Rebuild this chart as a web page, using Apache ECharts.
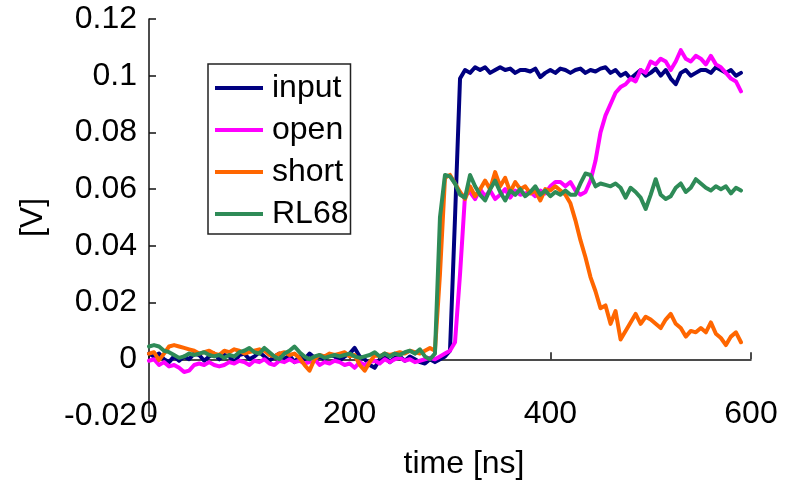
<!DOCTYPE html>
<html><head><meta charset="utf-8">
<script src="https://cdn.jsdelivr.net/npm/echarts@6/dist/echarts.min.js"></script>
<style>html,body{margin:0;padding:0;background:#fff;}#c{width:791px;height:480px;}</style>
</head><body><div id="c"></div>
<script>
var seriesNames = ['input', 'open', 'short', 'RL68'];
var colors = ['#000080', '#FF00FF', '#FF6600', '#2E8B57'];
var xTicks = [0, 200, 400, 600];
var yTicks = [-0.02, 0, 0.02, 0.04, 0.06, 0.08, 0.1, 0.12];

var time = [
  0,5,10,15,20,25,30,35,40,45,
  50,55,60,65,70,75,80,85,90,95,
  100,105,110,115,120,125,130,135,140,145,
  150,155,160,165,170,175,180,185,190,195,
  200,205,210,215,220,225,230,235,240,245,
  250,255,260,265,270,275,280,285,290,295,
  300,305,310,315,320,325,330,335,340,345,
  350,355,360,365,370,375,380,385,390,395,
  400,405,410,415,420,425,430,435,440,445,
  450,455,460,465,470,475,480,485,490,495,
  500,505,510,515,520,525,530,535,540,545,
  550,555,560,565,570,575,580,585,590
];

var inputV = [
  0.002,0.001,0.002,0.0,-0.001,0.001,-0.0005,0.001,0.0,0.002,
  0.0015,-0.0005,0.001,0.002,0.0,0.0015,0.001,-0.001,0.0015,0.002,
  0.0,0.001,0.0025,0.001,-0.0005,0.001,0.002,0.0,0.0015,-0.001,
  0.001,0.0,0.002,0.0005,0.001,0.0,0.0015,0.001,-0.0005,0.001,
  0.002,0.004,0.001,0.0,-0.002,-0.003,0.0,0.001,-0.001,0.0005,
  0.001,-0.0005,0.001,0.0,-0.001,-0.0015,0.0,-0.001,0.0,0.001,
  0.003,0.05,0.099,0.102,0.101,0.103,0.102,0.103,0.101,0.102,
  0.103,0.102,0.1025,0.101,0.102,0.102,0.1015,0.1025,0.0995,0.101,
  0.102,0.101,0.1025,0.102,0.101,0.102,0.1025,0.101,0.102,0.1015,
  0.1025,0.103,0.101,0.102,0.100,0.101,0.099,0.1005,0.102,0.100,
  0.101,0.1025,0.100,0.102,0.099,0.097,0.101,0.102,0.100,0.101,
  0.102,0.102,0.101,0.103,0.102,0.101,0.102,0.100,0.101
];

var openV = [
  -0.0005,0.0,-0.002,-0.001,-0.0025,-0.002,-0.003,-0.0045,-0.004,-0.002,
  -0.0015,-0.002,-0.001,-0.002,-0.0025,-0.002,-0.001,-0.0015,-0.0005,-0.001,
  -0.002,-0.0005,-0.001,0.0,-0.0015,-0.002,-0.0005,-0.001,0.0,-0.001,
  -0.0005,-0.0015,-0.001,0.0,-0.002,-0.001,-0.0015,-0.0005,-0.001,-0.002,
  -0.0015,-0.003,-0.001,-0.002,-0.001,-0.0005,-0.0015,0.0,-0.001,0.0,
  0.0005,-0.0005,0.0,-0.001,-0.0005,0.0,0.0005,0.0,0.001,0.002,
  0.003,0.006,0.03,0.058,0.059,0.0565,0.06,0.0575,0.0595,0.0565,
  0.058,0.06,0.057,0.0595,0.058,0.0585,0.059,0.0575,0.0595,0.0585,
  0.061,0.0625,0.0625,0.061,0.0625,0.0595,0.058,0.059,0.063,0.07,
  0.08,0.086,0.09,0.094,0.096,0.097,0.099,0.098,0.102,0.101,
  0.105,0.104,0.106,0.105,0.102,0.105,0.109,0.106,0.105,0.107,
  0.106,0.104,0.107,0.104,0.103,0.101,0.099,0.098,0.0945
];

var shortV = [
  0.002,0.0025,-0.0003,0.002,0.0045,0.005,0.0045,0.004,0.0035,0.003,
  0.002,0.0025,0.003,0.002,0.0015,0.003,0.0025,0.0035,0.003,0.002,
  0.0025,0.003,0.0035,0.003,0.0015,0.001,0.002,0.0025,0.0015,0.002,
  0.0005,-0.002,-0.004,0.0,0.0015,0.001,0.002,0.0015,0.002,0.0025,
  0.001,0.0015,-0.002,-0.004,-0.001,0.0015,0.001,0.002,0.0015,0.002,
  0.0025,0.002,0.003,0.0025,0.002,0.003,0.004,0.003,0.03,0.064,
  0.065,0.062,0.059,0.0565,0.061,0.0575,0.06,0.063,0.06,0.066,
  0.061,0.064,0.059,0.0625,0.06,0.061,0.0585,0.0595,0.056,0.06,
  0.0595,0.061,0.0595,0.058,0.055,0.049,0.042,0.036,0.029,0.024,
  0.018,0.019,0.0125,0.017,0.007,0.01,0.013,0.016,0.0125,0.015,
  0.014,0.0125,0.011,0.014,0.016,0.0125,0.011,0.008,0.010,0.0095,
  0.011,0.0095,0.013,0.009,0.0075,0.005,0.008,0.0095,0.006
];

var rl68V = [
  0.0045,0.005,0.0045,0.003,0.0025,0.0015,0.0005,0.001,0.002,0.0015,
  0.002,0.0025,0.0015,0.001,0.0015,0.0005,0.0015,0.001,0.0025,0.003,
  0.004,0.0025,0.002,0.004,0.0025,0.001,0.0,0.002,0.003,0.0045,
  0.0025,0.001,0.0,0.001,0.0015,0.0005,0.001,0.0015,0.001,0.0015,
  0.002,0.001,0.0005,0.001,0.0015,0.0025,0.001,0.002,0.001,0.002,
  0.0015,0.0025,0.003,0.002,0.0035,0.001,0.0,0.002,0.05,0.065,
  0.0645,0.062,0.058,0.057,0.065,0.061,0.058,0.056,0.06,0.063,
  0.059,0.056,0.0595,0.058,0.06,0.0575,0.059,0.061,0.058,0.0595,
  0.0575,0.059,0.058,0.0595,0.058,0.058,0.062,0.0655,0.065,0.061,
  0.062,0.0615,0.061,0.062,0.0605,0.057,0.0605,0.059,0.057,0.053,
  0.058,0.0635,0.058,0.0565,0.0575,0.0605,0.062,0.059,0.0605,0.0635,
  0.062,0.0605,0.0595,0.061,0.06,0.061,0.0585,0.0605,0.0595
];

var allValues = [inputV, openV, shortV, rl68V];
var FONT = "'Liberation Sans', Arial, Helvetica, sans-serif";

function pairs(vals) {
  var out = [];
  for (var i = 0; i < time.length; i++) out.push([time[i], vals[i]]);
  return out;
}

var series = seriesNames.map(function (n, k) {
  return {
    name: n, type: 'line', xAxisIndex: 0, yAxisIndex: 0,
    data: pairs(allValues[k]), showSymbol: false, symbol: 'none',
    lineStyle: { color: colors[k], width: 4, join: 'round', cap: 'round' },
    itemStyle: { color: colors[k] }
  };
});

var chart = echarts.init(document.getElementById('c'), null, { renderer: 'canvas' });
chart.setOption({
  animation: false,
  backgroundColor: '#fff',
  textStyle: { fontFamily: FONT },
  grid: { left: 149, right: 40, top: 19, bottom: 64, containLabel: false, outerBoundsMode: 'none' },
  legend: {
    orient: 'vertical', left: 208, top: 64,
    data: seriesNames, icon: 'rect', itemWidth: 48, itemHeight: 4, itemGap: 10,
    padding: [8, 2, 4, 7], borderColor: '#222', borderWidth: 1.5,
    textStyle: { fontSize: 32, color: '#000', fontFamily: FONT, lineHeight: 32, padding: [0, 0, 0, 4] }
  },
  xAxis: [{
    type: 'value', min: xTicks[0], max: xTicks[xTicks.length - 1], interval: 200,
    axisLine: { onZero: true, lineStyle: { color: '#111', width: 1.5 } },
    axisTick: { inside: true, length: 7, lineStyle: { color: '#111', width: 1.5 } },
    axisLabel: { show: false }, splitLine: { show: false }
  }, {
    type: 'value', position: 'bottom', offset: -18,
    min: xTicks[0], max: xTicks[xTicks.length - 1], interval: 200,
    axisLine: { show: false, onZero: false }, axisTick: { show: false },
    axisLabel: { fontSize: 32, color: '#000', margin: 0, fontFamily: FONT },
    splitLine: { show: false },
    name: 'time [ns]', nameLocation: 'middle', nameGap: 50,
    nameTextStyle: { fontSize: 32, color: '#000', fontFamily: FONT, padding: [0, 0, 0, 28] }
  }],
  yAxis: {
    type: 'value', min: yTicks[0], max: yTicks[yTicks.length - 1], interval: 0.02,
    axisLine: { onZero: false, lineStyle: { color: '#111', width: 1.5 } },
    axisTick: { inside: true, length: 7, lineStyle: { color: '#111', width: 1.5 } },
    axisLabel: { fontSize: 32, color: '#000', margin: 12, fontFamily: FONT, padding: [10, 0, 0, 0],
      formatter: function (v) { return String(parseFloat(v.toFixed(2))); } },
    splitLine: { show: false },
    name: '[V]', nameLocation: 'middle', nameGap: 100,
    nameTextStyle: { fontSize: 32, color: '#000', fontFamily: FONT }
  },
  series: series
});
</script></body></html>
